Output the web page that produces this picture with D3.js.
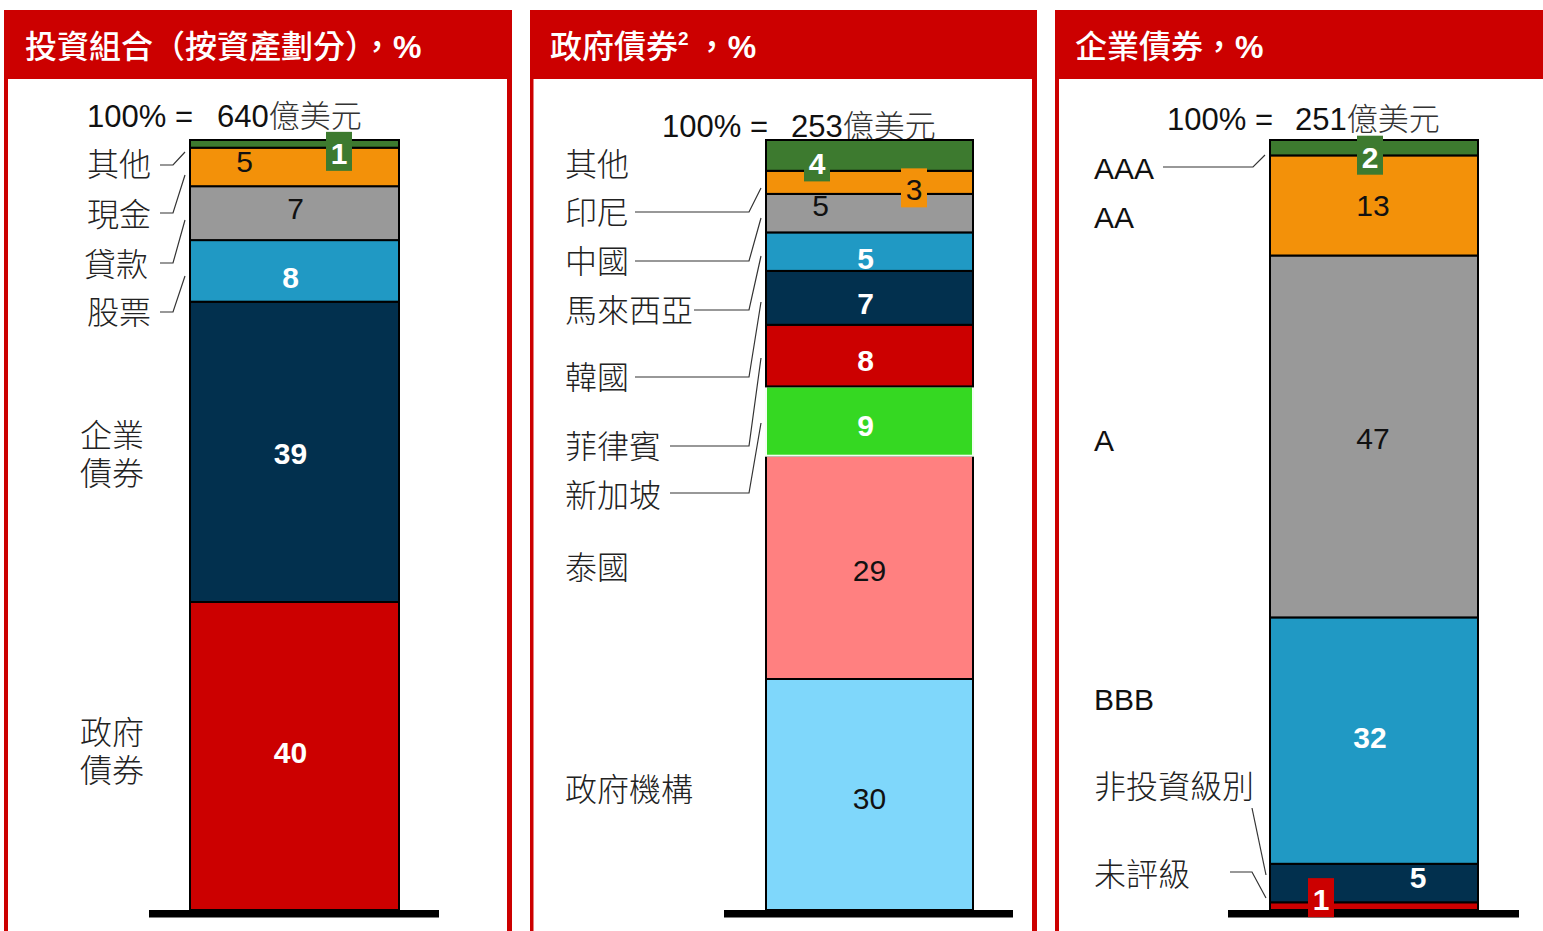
<!DOCTYPE html>
<html>
<head>
<meta charset="utf-8">
<script src="https://cdn.jsdelivr.net/npm/d3@7"></script>
<style>
  html, body { margin: 0; padding: 0; background: #fff; }
  svg { display: block; }
  .cjk { font-family: "Noto Sans CJK TC", "Noto Sans CJK SC", sans-serif; }
  .num { font-family: "Liberation Sans", Arial, sans-serif; }
</style>
</head>
<body>
<svg id="chart" width="1543" height="931"></svg>
<script>
// ---- Data (segments listed bottom to top) ----
const panelTitles = ["投資組合（按資產劃分）", "政府債券", "企業債券"];
const panelTotals = ["640", "253", "251"];

const assetCategories = ["政府債券", "企業債券", "股票", "貸款", "現金", "其他"];
const assetValues = [40, 39, 8, 7, 5, 1];

const govCategories = ["政府機構", "泰國", "新加坡", "菲律賓", "韓國", "馬來西亞", "中國", "印尼", "其他"];
const govValues = [30, 29, 9, 8, 7, 5, 5, 3, 4];

const corpCategories = ["未評級", "非投資級別", "BBB", "A", "AA", "AAA"];
const corpValues = [1, 5, 32, 47, 13, 2];

// ---- Styles ----
const GREEN = "#3d7a2f", ORANGE = "#f39109", GRAY = "#999999", TEAL = "#2099c4",
      NAVY = "#02304e", RED = "#cc0000", LIME = "#35d822", PINK = "#ff8080", SKY = "#7fd7fb";

const assetColors = [RED, NAVY, TEAL, GRAY, ORANGE, GREEN];
const govColors = [SKY, PINK, LIME, RED, NAVY, TEAL, GRAY, ORANGE, GREEN];
const corpColors = [RED, NAVY, TEAL, GRAY, ORANGE, GREEN];

// value-label look: w = white bold, k = black regular, box = coloured tag
const assetLabelKind = ["w", "w", "w", "k", "k", "box"];
const govLabelKind = ["k", "k", "w", "w", "w", "w", "k", "box", "box"];
const corpLabelKind = ["box", "w", "w", "k", "k", "box"];
// label nudges relative to segment centre [dx, dy]
const assetLabelNudge = [[-4, -4], [-4, 1], [-4, 6], [1, -5], [-50, -6], [44.5, 9]];
const govLabelNudge = [[0, 3.5], [0, 3], [-4, 4], [-4, 4], [-4, 5], [-4, 6], [-49, -8], [44.5, 7], [-52.5, 8]];
const corpLabelNudge = [[-53, -7], [44, -6], [-4, -4], [-1, 1.5], [-1, 0], [-4, 9]];

// category label placement [x, centre y, line count]
const assetLabelPos = [[80, 752, 2], [80, 455, 2], [87, 313], [84, 265], [87, 215], [87, 165]];
const govLabelPos = [[565, 790], [565, 568], [565, 496], [565, 447], [565, 378], [565, 311], [565, 262], [565, 213], [565, 165]];
const corpLabelPos = [[1094, 875], [1094, 787], [1094, 699], [1094, 440], [1094, 217], [1094, 168]];

// leader lines (polyline points)
const assetLeaders = [
  [[160, 165], [173, 165], [185, 152]],
  [[160, 213], [173, 213], [185, 175]],
  [[160, 263], [173, 263], [185, 220]],
  [[160, 312], [173, 312], [185, 276]]
];
const govLeaders = [
  [[635, 212], [749, 212], [761, 188]],
  [[635, 261], [749, 261], [761, 218]],
  [[694, 310], [749, 310], [761, 256]],
  [[635, 377], [749, 377], [761, 302]],
  [[670, 446], [749, 446], [761, 358]],
  [[670, 493], [749, 493], [761, 423]]
];
const corpLeaders = [
  [[1163, 167], [1253, 167], [1265, 155]],
  [[1252, 808], [1266, 875]],
  [[1230, 872], [1252, 872], [1266, 898]]
];

const panels = [
  { left: 4, width: 508, innerL: 4, innerR: 5, barL: 190, barR: 399, baseL: 149, baseR: 439,
    titleX: 25, totalX: [87, 217], totalY: 127,
    cats: assetCategories, vals: assetValues, colors: assetColors, kinds: assetLabelKind,
    nudge: assetLabelNudge, labelPos: assetLabelPos, leaders: assetLeaders },
  { left: 530, width: 507, innerL: 3.5, innerR: 5, barL: 766, barR: 973, baseL: 724, baseR: 1013,
    titleX: 550, totalX: [662, 791], totalY: 137, sup: "2",
    cats: govCategories, vals: govValues, colors: govColors, kinds: govLabelKind,
    nudge: govLabelNudge, labelPos: govLabelPos, leaders: govLeaders },
  { left: 1055, width: 508, innerL: 4, innerR: 5, barL: 1270, barR: 1478, baseL: 1228, baseR: 1519,
    titleX: 1075, totalX: [1167, 1295], totalY: 130,
    cats: corpCategories, vals: corpValues, colors: corpColors, kinds: corpLabelKind,
    nudge: corpLabelNudge, labelPos: corpLabelPos, leaders: corpLeaders }
];

const svg = d3.select("#chart");
const y = d3.scaleLinear().domain([0, 100]).range([910, 140]);
const line = d3.line();

panels.forEach((p, pi) => {
  const g = svg.append("g");

  // frame: red header band and side rules
  g.append("rect").attr("x", p.left).attr("y", 10).attr("width", p.width).attr("height", 940).attr("fill", RED);
  g.append("rect").attr("x", p.left + p.innerL).attr("y", 79)
    .attr("width", p.width - p.innerL - p.innerR).attr("height", 900).attr("fill", "#fff");

  // header title
  const t = g.append("text").attr("x", p.titleX).attr("y", 58).attr("fill", "#fff")
    .attr("font-size", 32).attr("font-weight", 500).attr("class", "cjk");
  t.append("tspan").text(panelTitles[pi]);
  if (p.sup) {
    t.append("tspan").attr("font-size", 19).attr("dy", -13).attr("class", "num").attr("font-weight", "bold").text(p.sup);
    t.append("tspan").attr("dy", 13).text(" ，");
  } else {
    t.append("tspan").text("，");
  }
  t.append("tspan").attr("class", "num").attr("font-weight", "bold").text("%");

  // total line
  g.append("text").attr("class", "num").attr("x", p.totalX[0]).attr("y", p.totalY)
    .attr("font-size", 31).attr("fill", "#111").text("100% =");
  const tt = g.append("text").attr("x", p.totalX[1]).attr("y", p.totalY).attr("font-size", 31).attr("fill", "#111");
  tt.append("tspan").attr("class", "num").text(panelTotals[pi]);
  tt.append("tspan").attr("class", "cjk").attr("font-weight", 300).attr("fill", "#333").text("億美元");

  // stacked segments
  const x = d3.scaleBand().domain([panelTitles[pi]]).range([p.barL, p.barR]).padding(0);
  const ends = d3.cumsum(p.vals);
  const segs = p.vals.map((v, i) => ({ v, i, y0: ends[i] - v, y1: ends[i] }));

  g.selectAll("rect.seg").data(segs).join("rect")
    .attr("class", "seg")
    .attr("x", x(panelTitles[pi]))
    .attr("width", x.bandwidth())
    .attr("y", d => y(d.y1))
    .attr("height", d => y(d.y0) - y(d.y1))
    .attr("fill", d => p.colors[d.i])
    .attr("stroke", d => p.colors[d.i] === LIME ? "#f2fff0" : "#000")
    .attr("stroke-width", 2);

  // baseline
  g.append("rect").attr("x", p.baseL).attr("y", 910).attr("width", p.baseR - p.baseL).attr("height", 7.5).attr("fill", "#000");

  // value labels
  const cx = x(panelTitles[pi]) + x.bandwidth() / 2;
  segs.forEach(d => {
    const kind = p.kinds[d.i];
    const [dx, dy] = p.nudge[d.i];
    const lx = cx + dx;
    const ly = y((d.y0 + d.y1) / 2) + dy;
    if (kind === "box") {
      g.append("rect").attr("x", lx - 13).attr("y", ly - 1.5 - 19.5).attr("width", 26).attr("height", 39)
        .attr("fill", p.colors[d.i]);
    }
    const dark = kind === "k" || (kind === "box" && p.colors[d.i] === ORANGE);
    g.append("text").attr("class", "num")
      .attr("x", lx).attr("y", ly + 11)
      .attr("text-anchor", "middle")
      .attr("font-size", 30)
      .attr("font-weight", dark ? "normal" : "bold")
      .attr("fill", dark ? "#111" : "#fff")
      .text(d.v);
  });

  // category labels (two-line ones as separate text rows)
  p.cats.forEach((c, i) => {
    const [lx, ly, lines] = p.labelPos[i];
    const isLatin = /^[A-Z]+$/.test(c);
    const rows = lines === 2 ? [[c.slice(0, 2), ly - 19], [c.slice(2), ly + 19]] : [[c, ly]];
    rows.forEach(([s, ry]) => {
      g.append("text")
        .attr("class", isLatin ? "num" : "cjk")
        .attr("font-size", isLatin ? 30 : 32)
        .attr("font-weight", isLatin ? "normal" : 300)
        .attr("fill", isLatin ? "#111" : "#222")
        .attr("x", lx)
        .attr("y", ry + 11)
        .text(s);
    });
  });

  // leader lines
  g.selectAll("path.leader").data(p.leaders).join("path")
    .attr("class", "leader")
    .attr("d", d => line(d))
    .attr("fill", "none")
    .attr("stroke", "#333")
    .attr("stroke-width", 1.2);
});
</script>
</body>
</html>
